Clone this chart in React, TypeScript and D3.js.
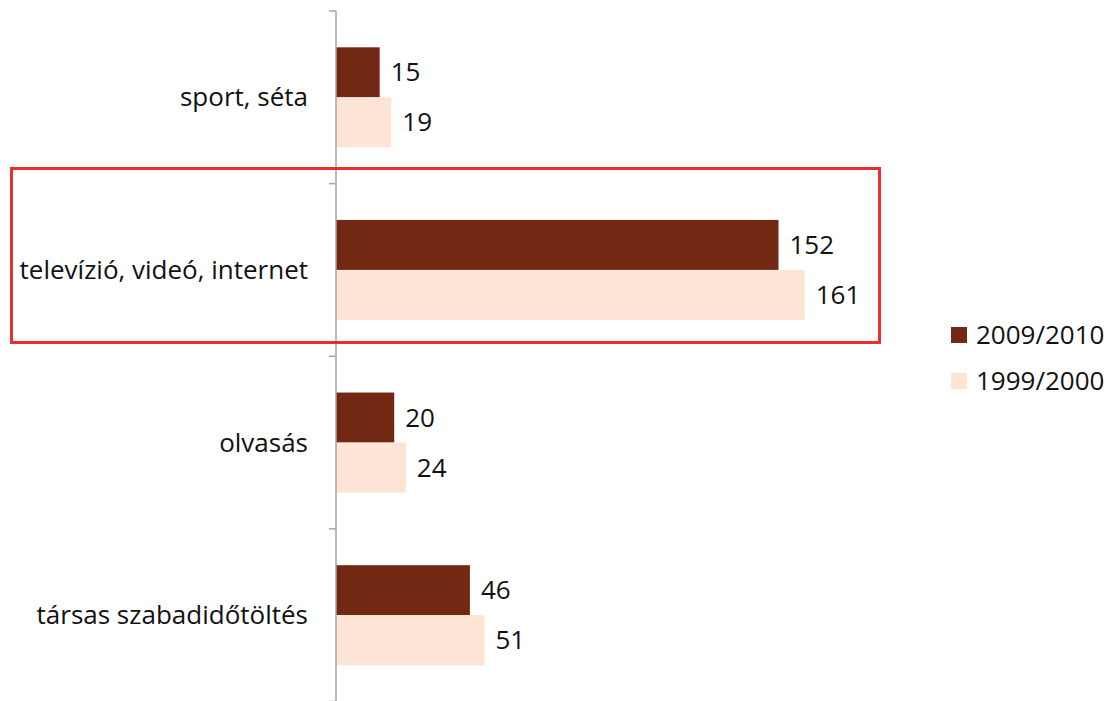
import React from "react";
import * as d3 from "d3";

const categories = ["sport, séta", "televízió, videó, internet", "olvasás", "társas szabadidőtöltés"];
const seriesNames = ["2009/2010", "1999/2000"];
const values2009 = [15, 152, 20, 46];
const values1999 = [19, 161, 24, 51];
const colors = ["#722813", "#FDE4D5"];

const W = 1107;
const H = 701;
const FONT = "'Open Sans', sans-serif";
const FS = 26;

export default function App() {
  const x = d3.scaleLinear().domain([0, 180]).range([336, 860]);
  const y0 = d3.scaleBand<string>().domain(categories).range([11, 701.5]).padding(0);
  const y1 = d3.scaleBand<string>().domain(seriesNames).range([0, y0.bandwidth()]).paddingInner(0).paddingOuter(0.726);
  const seriesValues = [values2009, values1999];
  const ticks = categories.map((c) => y0(c) as number).concat([y0.range()[1]]);

  return (
    <svg width={W} height={H} style={{ position: "absolute", left: 0, top: 0, background: "#fff" }} fontFamily={FONT}>
      {categories.map((c, i) => (
        <g key={c}>
          {seriesNames.map((s, j) => {
            const v = seriesValues[j][i];
            const yy = (y0(c) as number) + (y1(s) as number);
            return (
              <g key={s}>
                <rect x={x(0)} y={yy} width={x(v) - x(0)} height={y1.bandwidth()} fill={colors[j]} />
                <text x={x(v) + 11} y={yy + y1.bandwidth() / 2} dy="0.35em" fontSize={FS} fill="#111">
                  {v}
                </text>
              </g>
            );
          })}
          <text x={308} y={(y0(c) as number) + y0.bandwidth() / 2} dy="0.35em" textAnchor="end" fontSize={FS} fill="#111">
            {c}
          </text>
        </g>
      ))}
      <line x1={x(0)} x2={x(0)} y1={ticks[0]} y2={ticks[ticks.length - 1]} stroke="#A6A6A6" strokeWidth={1.5} />
      {ticks.map((t, i) => (
        <line key={i} x1={x(0) - 7} x2={x(0)} y1={t} y2={t} stroke="#A6A6A6" strokeWidth={1.5} />
      ))}
      <rect x={11.5} y={168.5} width={868} height={174} fill="none" stroke="#E8312F" strokeWidth={3} />
      {seriesNames.map((s, j) => (
        <g key={s} transform={`translate(951, ${327 + j * 46})`}>
          <rect width={16} height={16} fill={colors[j]} />
          <text x={25} y={8} dy="0.35em" fontSize={FS} fill="#111">
            {s}
          </text>
        </g>
      ))}
    </svg>
  );
}
